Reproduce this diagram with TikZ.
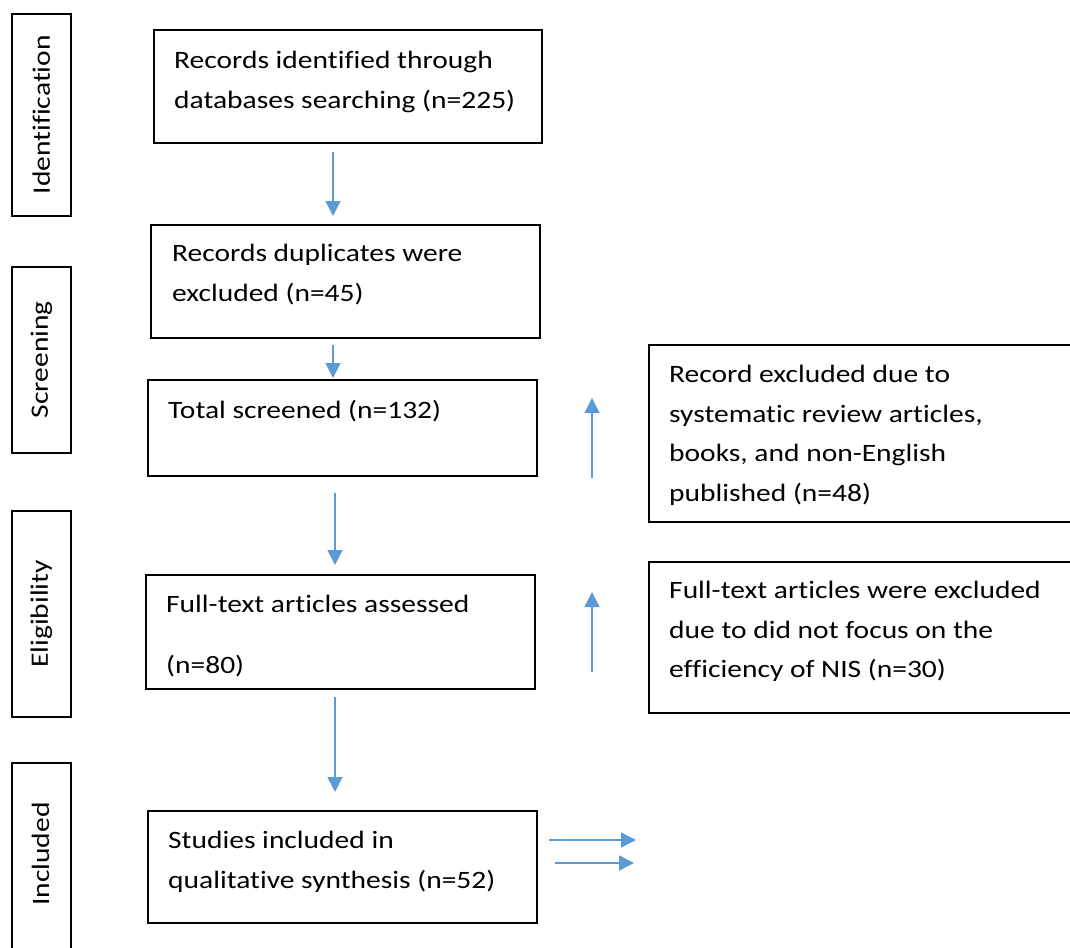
\documentclass[tikz,border=0pt]{standalone}
\usepackage{fontspec}
\setmainfont{Carlito}[FakeStretch=1.18, Ligatures=CommonOff]
\usetikzlibrary{arrows.meta}
\definecolor{arrowblue}{HTML}{5B9BD5}

\begin{document}
\begin{tikzpicture}[x=1pt, y=-1pt,
  box/.style={draw=black, line width=1.6pt, anchor=north west, inner sep=0pt},
  txt/.style={anchor=north west, inner sep=0pt, align=left, font=\fontsize{25}{39.5}\selectfont},
  lab/.style={rotate=90, inner sep=0pt, font=\fontsize{25}{30}\selectfont},
  arr/.style={draw=arrowblue, line width=1.5pt, -{Triangle[width=15pt, length=15pt]}}]
\clip (0,0) rectangle (1070,947);

  % stage labels
  \node[box, minimum width=59pt, minimum height=202pt] (identbox) at (11,13) {};
  \node[lab] (ident) at (identbox.center) {Identification};
  \node[box, minimum width=59pt, minimum height=186pt] (screenbox) at (11,266) {};
  \node[lab] (screen) at (screenbox.center) {Screening};
  \node[box, minimum width=59pt, minimum height=206pt] (eligbox) at (11,510) {};
  \node[lab] (elig) at (eligbox.center) {Eligibility};
  \node[box, minimum width=59pt, minimum height=200pt] (inclbox) at (11,762) {};
  \node[lab] (incl) at (40.5,854) {Included};

  % main column
  \node[box, minimum width=388pt, minimum height=113pt] (rec) at (153,29) {};
  \node[txt] (rectxt) at (174,51) {Records identified through\\databases searching (n=225)};
  \node[box, minimum width=389pt, minimum height=113pt] (dup) at (150,224) {};
  \node[txt] (duptxt) at (172,244) {Records duplicates were\\excluded (n=45)};
  \node[box, minimum width=389pt, minimum height=96pt] (tot) at (147,379) {};
  \node[txt] (tottxt) at (168,400) {Total screened (n=132)};
  \node[box, minimum width=389pt, minimum height=114pt] (full) at (145,574) {};
  \node[txt] (fulltxt) at (166,595) {Full-text articles assessed\\[21.5pt](n=80)};
  \node[box, minimum width=389pt, minimum height=112pt] (inc) at (147,810) {};
  \node[txt] (inctxt) at (168,831) {Studies included in\\qualitative synthesis (n=52)};

  % excluded records
  \node[box, minimum width=440pt, minimum height=177pt] (excl) at (648,344) {};
  \node[txt] (excltxt) at (669,365) {Record excluded due to\\systematic review articles,\\books, and non-English\\published (n=48)};
  \node[box, minimum width=440pt, minimum height=151pt] (exft) at (648,561) {};
  \node[txt] (exfttxt) at (669,581) {Full-text articles were excluded\\due to did not focus on the\\efficiency of NIS (n=30)};

  % arrows
  \coordinate (a1) at (333,152); \coordinate (b1) at (333,216);
  \coordinate (a2) at (333,345); \coordinate (b2) at (333,378);
  \coordinate (a3) at (335,493); \coordinate (b3) at (335,565);
  \coordinate (a4) at (335,697); \coordinate (b4) at (335,792);
  \coordinate (u1) at (592,478); \coordinate (v1) at (592,398);
  \coordinate (u2) at (592,672); \coordinate (v2) at (592,592);
  \coordinate (r1) at (549,840); \coordinate (s1) at (636,840);
  \coordinate (r2) at (555,863); \coordinate (s2) at (634,863);
  \draw[arr] (a1) -- (b1);
  \draw[arr] (a2) -- (b2);
  \draw[arr] (a3) -- (b3);
  \draw[arr] (a4) -- (b4);
  \draw[arr] (u1) -- (v1);
  \draw[arr] (u2) -- (v2);
  \draw[arr] (r1) -- (s1);
  \draw[arr] (r2) -- (s2);
\end{tikzpicture}
\end{document}
